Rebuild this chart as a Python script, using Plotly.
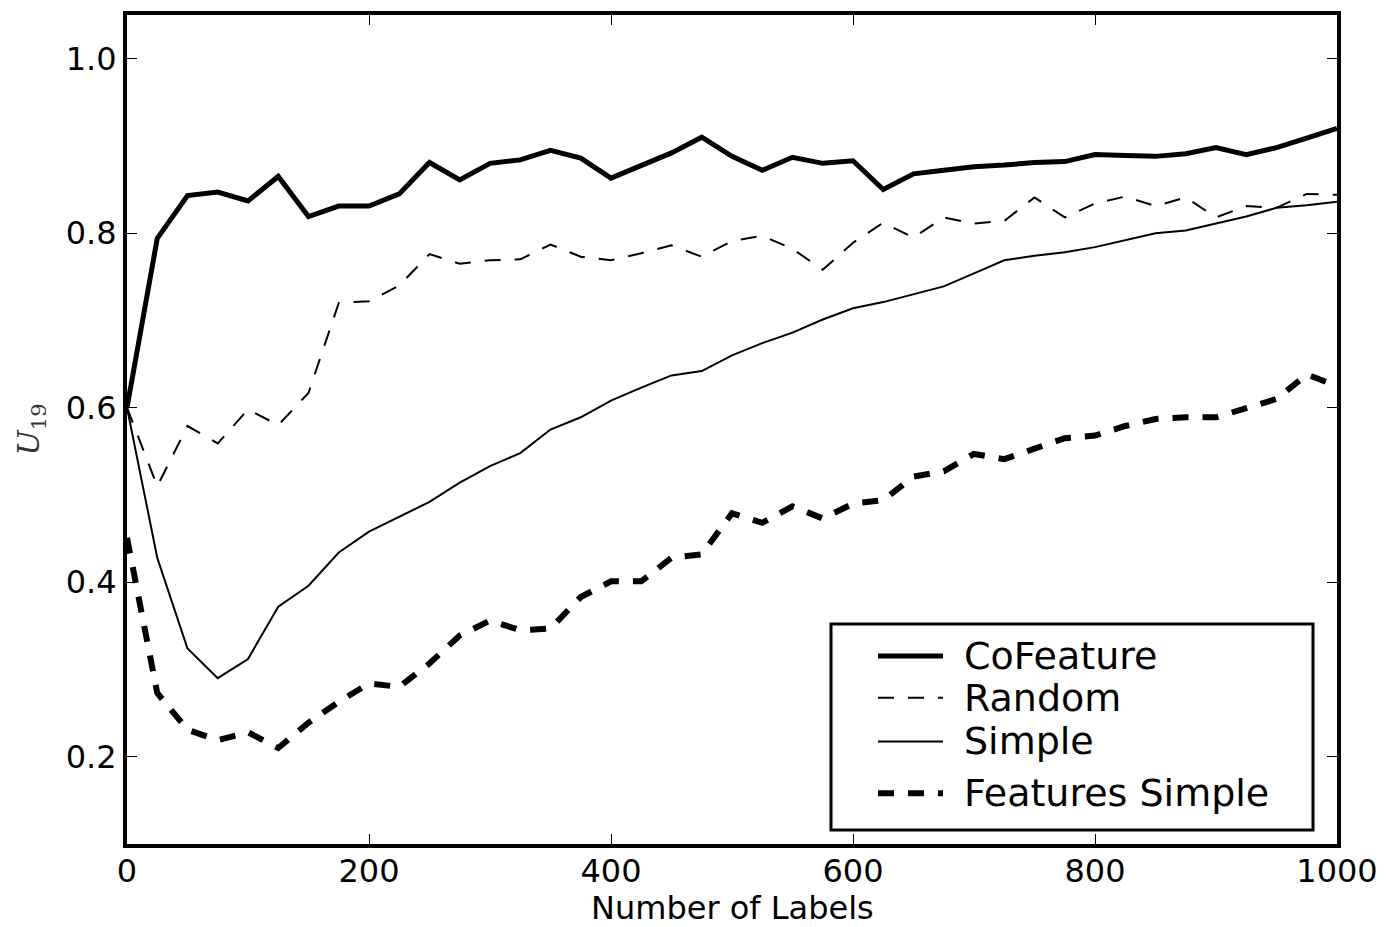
import plotly.graph_objects as go

labels = list(range(0, 1001, 25))

cofeature = [0.600, 0.794, 0.843, 0.847, 0.837, 0.865, 0.819, 0.831, 0.831, 0.845,
             0.881, 0.861, 0.880, 0.884, 0.895, 0.886, 0.863, 0.878, 0.892, 0.910,
             0.888, 0.872, 0.887, 0.880, 0.883, 0.850, 0.868, 0.872, 0.876, 0.878,
             0.881, 0.882, 0.890, 0.889, 0.888, 0.891, 0.898, 0.890, 0.898, 0.909,
             0.920]

random_sel = [0.600, 0.510, 0.579, 0.559, 0.598, 0.580, 0.617, 0.720, 0.722, 0.740,
              0.776, 0.765, 0.769, 0.770, 0.787, 0.773, 0.769, 0.777, 0.786, 0.773,
              0.791, 0.797, 0.782, 0.758, 0.789, 0.812, 0.795, 0.818, 0.811, 0.814,
              0.841, 0.818, 0.834, 0.842, 0.831, 0.841, 0.818, 0.831, 0.829, 0.845,
              0.844]

simple = [0.600, 0.428, 0.324, 0.290, 0.312, 0.372, 0.396, 0.434, 0.458, 0.475,
          0.492, 0.514, 0.533, 0.548, 0.575, 0.589, 0.608, 0.623, 0.637, 0.642,
          0.660, 0.674, 0.686, 0.701, 0.714, 0.721, 0.730, 0.739, 0.754, 0.769,
          0.774, 0.778, 0.784, 0.792, 0.800, 0.803, 0.811, 0.819, 0.829, 0.832,
          0.836]

features_simple = [0.451, 0.273, 0.231, 0.219, 0.228, 0.210, 0.239, 0.263, 0.284, 0.280,
                   0.307, 0.339, 0.356, 0.345, 0.347, 0.383, 0.401, 0.401, 0.428, 0.432,
                   0.479, 0.468, 0.487, 0.473, 0.490, 0.494, 0.521, 0.527, 0.547, 0.541,
                   0.553, 0.565, 0.568, 0.579, 0.587, 0.589, 0.589, 0.600, 0.610, 0.638,
                   0.625]

series_names = ["CoFeature", "Random", "Simple", "Features Simple"]
x_ticks = [0, 200, 400, 600, 800, 1000]
y_ticks = [0.2, 0.4, 0.6, 0.8, 1.0]
x_title = "Number of Labels"

FONT = "DejaVu Sans"
DASH = "16px,14px"
styles = [
    dict(color="black", width=5),
    dict(color="black", width=2, dash=DASH),
    dict(color="black", width=2),
    dict(color="black", width=6, dash=DASH),
]
data = [cofeature, random_sel, simple, features_simple]

# Page offset (browser body margin) compensation
W, H = 1378, 919
ML, MR, MT, MB = 119, 49, 3, 83
PW = W - ML - MR
PH = H - MT - MB


def px(x):
    # viewport pixel -> paper x
    return (x - 8 - ML) / PW


def py(y):
    # viewport pixel -> paper y
    return (H - MB - (y - 8)) / PH


fig = go.Figure()
for name, vals, st in zip(series_names, data, styles):
    fig.add_trace(go.Scatter(x=labels, y=vals, mode="lines", name=name,
                             line=st, showlegend=False))

# Legend box drawn as shapes + annotations (matplotlib-like layout)
fig.add_shape(type="rect", xref="paper", yref="paper",
              x0=px(831), x1=px(1313), y0=py(830), y1=py(623),
              line=dict(color="black", width=3), fillcolor="white", layer="above")
row_y = [655, 697, 741, 793]
for name, st, yy in zip(series_names, styles, row_y):
    fig.add_shape(type="line", xref="paper", yref="paper",
                  x0=px(878), x1=px(943), y0=py(yy), y1=py(yy),
                  line=st, layer="above")
    fig.add_annotation(xref="paper", yref="paper", x=px(962), y=py(yy),
                       xanchor="left", yanchor="middle", showarrow=False,
                       text=name, font=dict(family=FONT, size=38, color="black"))

# x-axis title
fig.add_annotation(xref="paper", yref="paper", x=px(732), y=py(908),
                   xanchor="center", yanchor="middle", showarrow=False,
                   text=x_title, font=dict(family=FONT, size=32, color="black"))

fig.update_layout(
    width=W, height=H,
    margin=dict(l=ML, r=MR, t=MT, b=MB),
    paper_bgcolor="white", plot_bgcolor="white",
    font=dict(family=FONT, size=32, color="black"),
    showlegend=False,
)
fig.update_xaxes(
    range=[0, 1000], tickvals=x_ticks, ticktext=[str(v) for v in x_ticks],
    showgrid=False, zeroline=False, showline=True, linecolor="black", linewidth=4,
    mirror="allticks", ticks="inside", ticklen=10, tickwidth=1, tickcolor="black",
    tickfont=dict(family=FONT, size=32, color="black"), ticklabelstandoff=-4,
)
fig.update_yaxes(
    range=[0.1, 1.05], tickvals=y_ticks, ticktext=[f"{v:.1f}" for v in y_ticks],
    showgrid=False, zeroline=False, showline=True, linecolor="black", linewidth=4,
    mirror="allticks", ticks="inside", ticklen=10, tickwidth=1, tickcolor="black",
    tickfont=dict(family=FONT, size=32, color="black"),
    title=dict(text="<i>U</i><sub>19</sub>", font=dict(family="DejaVu Serif", size=30, color="#333333"), standoff=18),
)

fig.write_html("out.html")
